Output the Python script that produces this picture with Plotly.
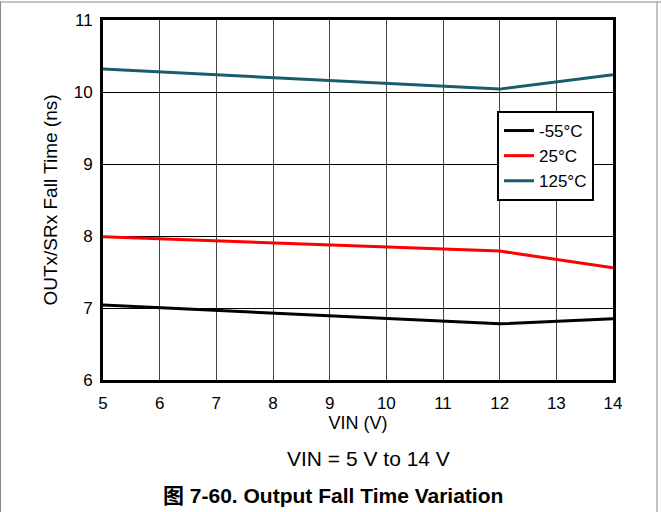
import plotly.graph_objects as go

vin = [5, 12, 14]
t_m55 = [7.04, 6.78, 6.85]
t_25 = [7.99, 7.79, 7.56]
t_125 = [10.32, 10.04, 10.24]

series = [("-55°C", t_m55, "#000000"), ("25°C", t_25, "#ff0000"), ("125°C", t_125, "#1b5c6c")]

x_ticks = list(range(5, 15))
y_ticks = list(range(6, 12))

fig = go.Figure()
for name, ys, col in series:
    fig.add_trace(go.Scatter(x=vin, y=ys, mode="lines", name=name,
                             line=dict(color=col, width=3)))

FONT = "Liberation Sans, Arial, sans-serif"
L, R, T, B = 103, 613, 20, 380
W, H = 661, 512

def px(x):
    return (x - L) / (R - L)

def py(y):
    return (B - y) / (B - T)

fig.update_layout(
    width=W, height=H,
    margin=dict(l=L, r=W - R, t=T, b=H - B),
    plot_bgcolor="white", paper_bgcolor="white",
    font=dict(family=FONT, size=17, color="black"),
    showlegend=True,
    legend=dict(x=px(497), y=py(111), xanchor="left", yanchor="top",
                bgcolor="white", bordercolor="black", borderwidth=2,
                font=dict(size=17, family=FONT), tracegroupgap=0,
                itemwidth=30),
    xaxis=dict(range=[5, 14], tickvals=x_ticks, ticktext=[str(v) for v in x_ticks],
               showgrid=True, gridcolor="#444444", gridwidth=1,
               showline=True, linecolor="black", linewidth=3, mirror=True,
               ticks="", zeroline=False, ticklabelstandoff=6,
               title=dict(text="VIN (V)", font=dict(size=18), standoff=2),
               tickfont=dict(size=17)),
    yaxis=dict(range=[6, 11], tickvals=y_ticks, ticktext=[str(v) for v in y_ticks],
               showgrid=True, gridcolor="black", gridwidth=1,
               showline=True, linecolor="black", linewidth=3, mirror=True,
               ticks="", zeroline=False, ticklabelstandoff=4,
               title=dict(text="OUTx/SRx Fall Time (ns)", font=dict(size=19), standoff=12),
               tickfont=dict(size=17)),
)

fig.add_annotation(text="VIN = 5 V to 14 V", xref="paper", yref="paper",
                   x=px(368), y=py(458), showarrow=False,
                   font=dict(size=21, family=FONT), xanchor="center", yanchor="middle")
fig.add_annotation(text="<b>图 7-60. Output Fall Time Variation</b>", xref="paper", yref="paper",
                   x=px(333), y=py(495), showarrow=False,
                   font=dict(size=21, family="Liberation Sans, Arial, Noto Sans CJK SC, sans-serif"),
                   xanchor="center", yanchor="middle")

# page border lines
border = dict(color="#888888", width=1)
fig.add_shape(type="line", xref="paper", yref="paper", x0=px(0), x1=px(W), y0=py(2), y1=py(2), line=border)
fig.add_shape(type="line", xref="paper", yref="paper", x0=px(0.5), x1=px(0.5), y0=py(2), y1=py(H), line=border)
fig.add_shape(type="line", xref="paper", yref="paper", x0=px(657), x1=px(657), y0=py(2), y1=py(H), line=border)

fig.write_html("out.html", config={"displayModeBar": False},
               post_script="document.body.style.margin='0';")
